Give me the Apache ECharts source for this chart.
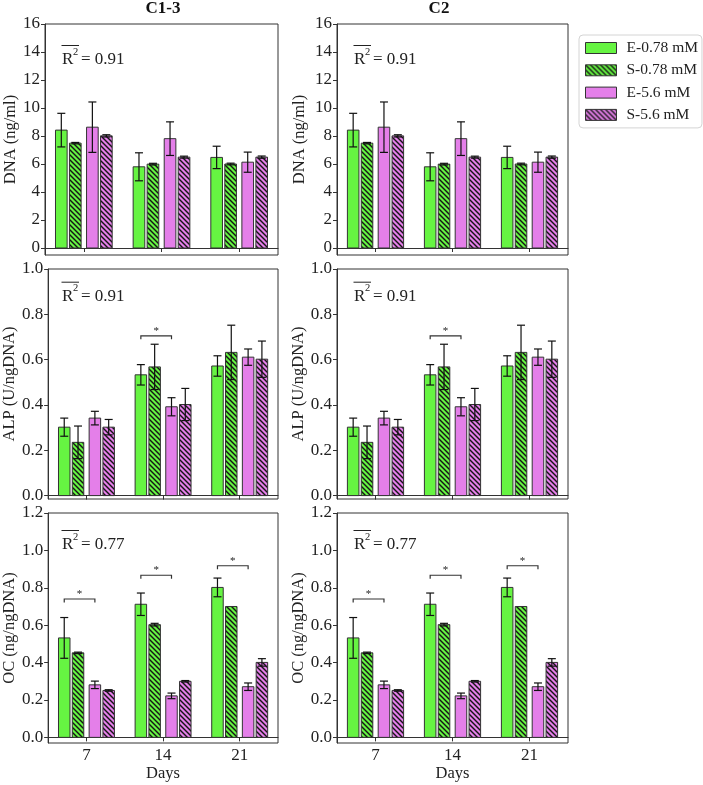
<!DOCTYPE html>
<html><head><meta charset="utf-8">
<script src="https://cdn.jsdelivr.net/npm/echarts@6/dist/echarts.min.js"></script>
<style>html,body{margin:0;padding:0;background:#fff}#c{width:703px;height:785px}</style>
</head><body><div id="c"></div>
<script>
// ---------------- data ----------------
const days = ['7', '14', '21'];
const seriesNames = ['E-0.78 mM', 'S-0.78 mM', 'E-5.6 mM', 'S-5.6 mM'];
const colTitles = ['C1-3', 'C2'];
const yNames = ['DNA (ng/ml)', 'ALP (U/ngDNA)', 'OC (ng/ngDNA)'];
const r2Values = ['0.91', '0.91', '0.77'];

const dnaE078 = [8.42, 5.80, 6.47];  const dnaE078Err = [1.20, 1.00, 0.80];
const dnaS078 = [7.49, 5.99, 6.00];  const dnaS078Err = [0.05, 0.06, 0.06];
const dnaE56  = [8.63, 7.81, 6.13];  const dnaE56Err  = [1.80, 1.20, 0.72];
const dnaS56  = [8.01, 6.49, 6.49];  const dnaS56Err  = [0.08, 0.07, 0.08];

const alpE078 = [0.302, 0.533, 0.572]; const alpE078Err = [0.040, 0.045, 0.045];
const alpS078 = [0.235, 0.568, 0.632]; const alpS078Err = [0.072, 0.100, 0.120];
const alpE56  = [0.342, 0.392, 0.611]; const alpE56Err  = [0.030, 0.040, 0.036];
const alpS56  = [0.302, 0.402, 0.602]; const alpS56Err  = [0.034, 0.071, 0.080];

const ocE078 = [0.532, 0.712, 0.802]; const ocE078Err = [0.109, 0.060, 0.050];
const ocS078 = [0.452, 0.603, 0.700]; const ocS078Err = [0.004, 0.007, 0.000];
const ocE56  = [0.281, 0.222, 0.271]; const ocE56Err  = [0.020, 0.015, 0.020];
const ocS56  = [0.251, 0.300, 0.401]; const ocS56Err  = [0.004, 0.004, 0.020];

const dnaTicks = [0, 2, 4, 6, 8, 10, 12, 14, 16];
const alpTicks = [0, 0.2, 0.4, 0.6, 0.8, 1.0];
const ocTicks  = [0, 0.2, 0.4, 0.6, 0.8, 1.0, 1.2];

// significance brackets: [day index, height]
const dnaSig = [];
const alpSig = [[1, 0.705]];
const ocSig  = [[0, 0.74], [1, 0.867], [2, 0.918]];

// ---------------- layout / style ----------------
const rows = [
  { means: [dnaE078, dnaS078, dnaE56, dnaS56], errs: [dnaE078Err, dnaS078Err, dnaE56Err, dnaS56Err],
    ticks: dnaTicks, min: -0.5, max: 16, dec: 0, sig: dnaSig },
  { means: [alpE078, alpS078, alpE56, alpS56], errs: [alpE078Err, alpS078Err, alpE56Err, alpS56Err],
    ticks: alpTicks, min: -0.015, max: 1.0, dec: 1, sig: alpSig },
  { means: [ocE078, ocS078, ocE56, ocS56], errs: [ocE078Err, ocS078Err, ocE56Err, ocS56Err],
    ticks: ocTicks, min: -0.03, max: 1.2, dec: 1, sig: ocSig }
];
const rowTop = [24, 269, 513];
const rowH = [231, 230, 230];
const colLeft = [45, 337];
const colW = [233, 231];
const r2Base = [41, 32.7, 37];
const FONT = 'Liberation Serif';
const GREEN = '#66F442';
const VIOLET = '#E47FE9';
const EDGE = '#333333';
const offsets = [-0.29, -0.11, 0.11, 0.29];
const barW = 0.15;

function hatch(bg) {
  const s = 5, cv = document.createElement('canvas');
  cv.width = s; cv.height = s;
  const g = cv.getContext('2d');
  g.fillStyle = bg; g.fillRect(0, 0, s, s);
  g.strokeStyle = '#151515'; g.lineWidth = 1.4;
  for (const k of [-s, 0, s]) {
    g.beginPath(); g.moveTo(k - 1, -1); g.lineTo(k + s + 1, s + 1); g.stroke();
  }
  return cv;
}
const fills = [GREEN, { image: hatch(GREEN), repeat: 'repeat' }, VIOLET, { image: hatch(VIOLET), repeat: 'repeat' }];

const grids = [], xAxes = [], yAxes = [], series = [], graphics = [];

rows.forEach((row, r) => {
  [0, 1].forEach(c => {
    const p = r * 2 + c;
    grids.push({ left: colLeft[c], top: rowTop[r], width: colW[c], height: rowH[r],
      show: true, borderColor: EDGE, borderWidth: 1, backgroundColor: 'transparent' });
    const bottom = r === 2;
    xAxes.push({ type: 'category', gridIndex: p, data: days, boundaryGap: true,
      axisLine: { show: true, lineStyle: { color: EDGE, width: 1 } },
      axisTick: { show: true, alignWithLabel: true, length: 4, lineStyle: { color: EDGE } },
      axisLabel: { show: bottom, fontFamily: FONT, fontSize: 17, color: '#222', margin: 4 },
      name: bottom ? 'Days' : '', nameLocation: 'middle', nameGap: 21,
      nameTextStyle: { fontFamily: FONT, fontSize: 16.5, color: '#222' },
      splitLine: { show: false } });
    yAxes.push({ type: 'value', gridIndex: p, min: row.min, max: row.max,
      axisLine: { show: true, lineStyle: { color: EDGE, width: 1 } },
      axisTick: { show: true, length: 4, customValues: row.ticks, lineStyle: { color: EDGE } },
      axisLabel: { fontFamily: FONT, fontSize: 17, color: '#222', margin: 5, customValues: row.ticks,
        formatter: v => Number(v).toFixed(row.dec) },
      splitLine: { show: false },
      name: yNames[r], nameLocation: 'middle', nameGap: c === 0 ? 26 : 29,
      nameTextStyle: { fontFamily: FONT, fontSize: 16.5, color: '#222' } });

    // bars
    for (let i = 0; i < 4; i++) {
      series.push({
        type: 'custom', name: seriesNames[i], xAxisIndex: p, yAxisIndex: p, z: 2,
        itemStyle: { color: fills[i], borderColor: EDGE, borderWidth: 1 },
        data: row.means[i].map((v, j) => [j, v]),
        renderItem: (params, api) => {
          const top = api.coord([api.value(0), api.value(1)]);
          const base = api.coord([api.value(0), 0]);
          const band = api.size([1, 0])[0];
          const w = barW * band;
          const cx = top[0] + offsets[i] * band;
          return { type: 'rect',
            shape: { x: cx - w / 2, y: top[1], width: w, height: base[1] - top[1] },
            style: { fill: fills[i], stroke: EDGE, lineWidth: 1 } };
        }
      });
    }
    // error bars
    const errData = [];
    for (let i = 0; i < 4; i++) row.means[i].forEach((v, j) => errData.push([j, i, v, row.errs[i][j]]));
    series.push({
      type: 'custom', name: 'err', xAxisIndex: p, yAxisIndex: p, z: 4, silent: true,
      data: errData,
      renderItem: (params, api) => {
        const j = api.value(0), i = api.value(1), m = api.value(2), e = api.value(3);
        if (!(e > 0)) return null;
        const band = api.size([1, 0])[0];
        const hi = api.coord([j, m + e]), lo = api.coord([j, m - e]);
        const x = hi[0] + offsets[i] * band, cap = 4;
        const st = { stroke: '#111', lineWidth: 1.2 };
        return { type: 'group', children: [
          { type: 'line', shape: { x1: x, y1: hi[1], x2: x, y2: lo[1] }, style: st },
          { type: 'line', shape: { x1: x - cap, y1: hi[1], x2: x + cap, y2: hi[1] }, style: st },
          { type: 'line', shape: { x1: x - cap, y1: lo[1], x2: x + cap, y2: lo[1] }, style: st }
        ] };
      }
    });
    // significance brackets
    if (row.sig.length) {
      series.push({
        type: 'custom', name: 'sig', xAxisIndex: p, yAxisIndex: p, z: 5, silent: true,
        data: row.sig,
        renderItem: (params, api) => {
          const j = api.value(0), h = api.value(1);
          const band = api.size([1, 0])[0];
          const pt = api.coord([j, h]);
          const x1 = pt[0] + offsets[0] * band, x2 = pt[0] + offsets[2] * band, y = pt[1];
          return { type: 'group', children: [
            { type: 'polyline', shape: { points: [[x1, y + 3.5], [x1, y], [x2, y], [x2, y + 3.5]] },
              style: { stroke: '#333', lineWidth: 1.2, fill: null } },
            { type: 'text', x: (x1 + x2) / 2, y: y - 5,
              style: { text: '*', fontFamily: FONT, fontSize: 11, fill: '#222', align: 'center', verticalAlign: 'middle' } }
          ] };
        }
      });
    }
    // R^2 annotation
    const L = colLeft[c] + 17, B = rowTop[r] + r2Base[r];
    graphics.push(
      { type: 'text', x: L, y: B - 5.6, style: { text: 'R', fontFamily: FONT, fontSize: 17, fill: '#222', verticalAlign: 'middle' } },
      { type: 'text', x: L + 11, y: B - 13, style: { text: '2', fontFamily: FONT, fontSize: 10.5, fill: '#222', verticalAlign: 'middle' } },
      { type: 'line', shape: { x1: L - 0.5, y1: B - 19.5, x2: L + 17, y2: B - 19.5 }, style: { stroke: '#222', lineWidth: 1 } },
      { type: 'text', x: L + 19, y: B - 5.6, style: { text: '= ' + r2Values[r], fontFamily: FONT, fontSize: 17, fill: '#222', verticalAlign: 'middle' } }
    );
  });
});

graphics.push(
  { type: 'text', x: 163, y: 8.5, style: { text: colTitles[0], fontFamily: FONT, fontSize: 17, fontWeight: 'bold', fill: '#111', align: 'center', verticalAlign: 'middle' } },
  { type: 'text', x: 439, y: 8.5, style: { text: colTitles[1], fontFamily: FONT, fontSize: 17, fontWeight: 'bold', fill: '#111', align: 'center', verticalAlign: 'middle' } }
);

const chart = echarts.init(document.getElementById('c'), null, { renderer: 'canvas', width: 703, height: 785 });
chart.setOption({
  backgroundColor: '#fff',
  animation: false,
  grid: grids, xAxis: xAxes, yAxis: yAxes, series: series,
  legend: {
    orient: 'vertical', left: 579, top: 35,
    padding: [5, 4, 5, 6], itemWidth: 31, itemHeight: 11, itemGap: 6.3, icon: 'rect',
    borderColor: '#d4d4d4', borderWidth: 1, borderRadius: 4, backgroundColor: '#fff',
    textStyle: { fontFamily: FONT, fontSize: 15.5, color: '#222', padding: [0, 0, 0, 5] },
    data: seriesNames.map((n, i) => ({ name: n, icon: 'rect', itemStyle: { color: fills[i], borderColor: EDGE, borderWidth: 1 } }))
  },
  graphic: graphics
});
</script></body></html>
